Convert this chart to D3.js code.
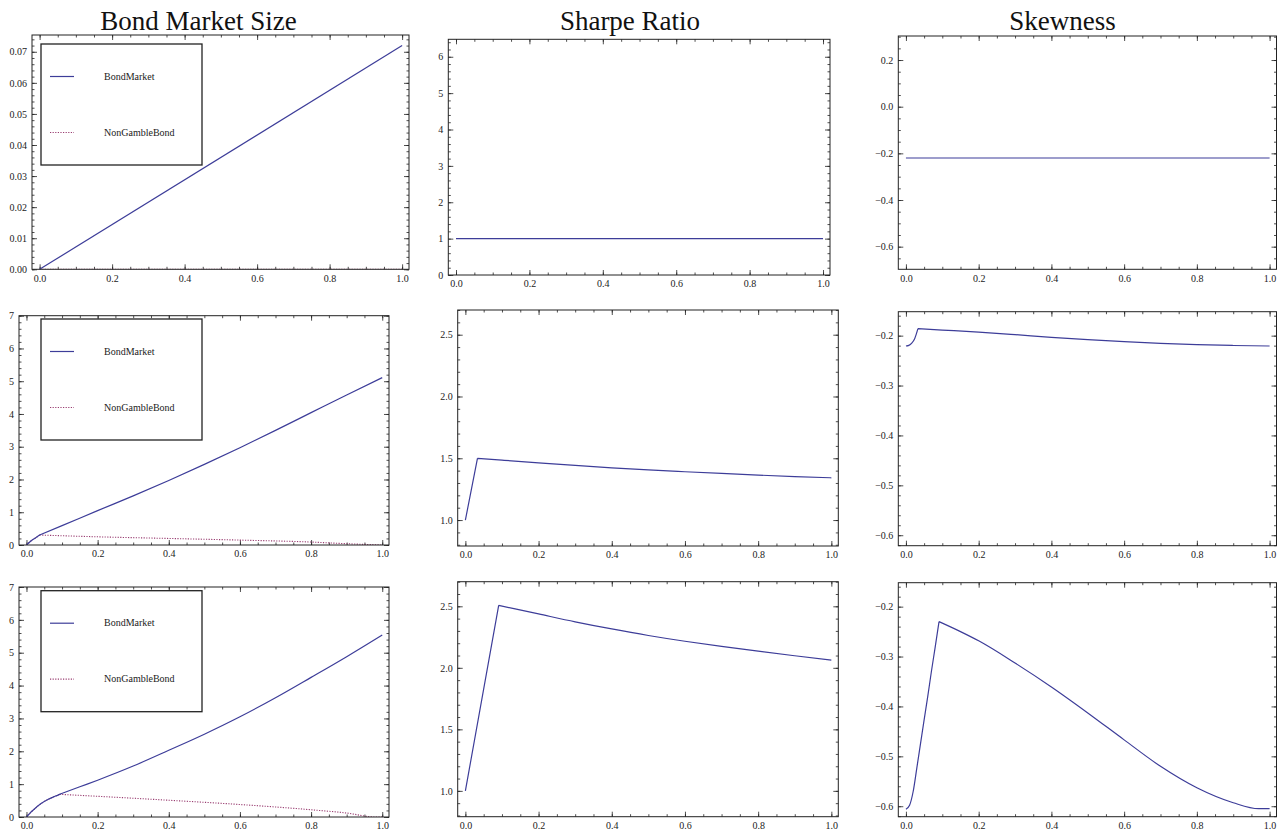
<!DOCTYPE html>
<html>
<head>
<meta charset="utf-8">
<script src="https://cdn.jsdelivr.net/npm/d3@7"></script>
<style>
  body { margin: 0; background: #fff; }
  svg { display: block; }
  text { font-family: "Liberation Serif", "DejaVu Serif", serif; }
</style>
</head>
<body>
<div id="chart"></div>
<script>
const width = 1278;
const height = 831;
const blue = '#3d3d99';
const red = '#993d71';
const ink = '#222';

const columnTitles = ['Bond Market Size', 'Sharpe Ratio', 'Skewness'];
const legendLabels = ['BondMarket', 'NonGambleBond'];

// row 1: no gambling bonds
const flatX = [0, 1];
const bondRow1 = [0, 0.072];
const nonGambleRow1 = [0, 0];
const sharpeRow1 = [1, 1];
const skewRow1 = [-0.22, -0.22];

// row 2
const bondRow2X = [0, 0.01, 0.02, 0.03, 0.037, 0.1, 0.2, 0.3, 0.4, 0.5, 0.6, 0.7, 0.8, 0.9, 1.0];
const bondRow2 = [0, 0.1, 0.18, 0.25, 0.305, 0.59, 1.05, 1.5, 1.97, 2.46, 2.97, 3.5, 4.04, 4.58, 5.11];
const nonGambleRow2X = [0, 0.01, 0.02, 0.03, 0.037, 0.2, 0.4, 0.6, 0.8, 0.9, 1.0];
const nonGambleRow2 = [0, 0.1, 0.18, 0.25, 0.305, 0.25, 0.2, 0.15, 0.09, 0.04, 0.0];
const sharpeRow2X = [0, 0.033, 0.1, 0.2, 0.3, 0.4, 0.5, 0.6, 0.7, 0.8, 0.9, 1.0];
const sharpeRow2 = [1.0, 1.5, 1.485, 1.463, 1.442, 1.423, 1.406, 1.391, 1.377, 1.364, 1.352, 1.342];
const skewRow2X = [0, 0.008, 0.016, 0.024, 0.033, 0.1, 0.2, 0.3, 0.4, 0.5, 0.6, 0.7, 0.8, 0.9, 1.0];
const skewRow2 = [-0.2207, -0.2195, -0.215, -0.206, -0.186, -0.1888, -0.193, -0.198, -0.2033, -0.208, -0.212, -0.2155, -0.218, -0.2197, -0.2207];

// row 3
const bondRow3X = [0, 0.01, 0.02, 0.04, 0.06, 0.08, 0.093, 0.15, 0.2, 0.3, 0.4, 0.5, 0.6, 0.7, 0.8, 0.9, 1.0];
const bondRow3 = [0, 0.12, 0.22, 0.4, 0.53, 0.63, 0.69, 0.92, 1.12, 1.55, 2.03, 2.52, 3.05, 3.63, 4.25, 4.88, 5.54];
const nonGambleRow3X = [0, 0.01, 0.02, 0.04, 0.06, 0.08, 0.093, 0.2, 0.4, 0.6, 0.8, 0.9, 0.98, 1.0];
const nonGambleRow3 = [0, 0.12, 0.22, 0.4, 0.53, 0.63, 0.69, 0.63, 0.51, 0.38, 0.22, 0.12, 0.0, 0.0];
const sharpeRow3X = [0, 0.091, 0.2, 0.3, 0.4, 0.5, 0.6, 0.7, 0.8, 0.9, 1.0];
const sharpeRow3 = [1.0, 2.508, 2.438, 2.374, 2.316, 2.263, 2.216, 2.174, 2.135, 2.098, 2.062];
const skewRow3X = [0, 0.01, 0.02, 0.03, 0.04, 0.05, 0.06, 0.07, 0.08, 0.091, 0.15, 0.2, 0.3, 0.4, 0.5, 0.6, 0.7, 0.8, 0.9, 0.97, 1.0];
const skewRow3 = [-0.606, -0.598, -0.57, -0.523, -0.475, -0.427, -0.38, -0.33, -0.283, -0.23, -0.25, -0.2685, -0.313, -0.361, -0.413, -0.467, -0.52, -0.563, -0.593, -0.605, -0.605];

// kink = index of the corner point where the curve is split into two smooth pieces
const bondSeries = (xs, ys, kink = 0) => ({ xs, ys, kink, color: blue, dash: null });
const nonGambleSeries = (xs, ys, kink = 0) => ({ xs, ys, kink, color: red, dash: '1.2,1.4' });

const panels = [
  { l: 32, t: 35, r: 409, b: 269.3, y: [0, 0.0754], step: 0.01, minor: 0.002, fmt: '.2f', legendTop: 44,
    series: [nonGambleSeries(flatX, nonGambleRow1), bondSeries(flatX, bondRow1)] },
  { l: 448.3, t: 39.3, r: 830, b: 275, y: [0, 6.48], step: 1, minor: 0.2, fmt: 'd',
    series: [bondSeries(flatX, sharpeRow1)] },
  { l: 898.3, t: 36, r: 1276.5, b: 269.3, y: [-0.697, 0.303], step: 0.2, minor: 0.05, fmt: '.1f',
    series: [bondSeries(flatX, skewRow1)] },
  { l: 19, t: 315.7, r: 389, b: 545, y: [0, 7], step: 1, minor: 0.2, fmt: 'd', legendTop: 319,
    series: [nonGambleSeries(nonGambleRow2X, nonGambleRow2, 4), bondSeries(bondRow2X, bondRow2, 4)] },
  { l: 457.7, t: 310, r: 838.3, b: 546, y: [0.79, 2.7], step: 0.5, minor: 0.1, fmt: '.1f',
    series: [bondSeries(sharpeRow2X, sharpeRow2, 1)] },
  { l: 898.3, t: 311.7, r: 1276.5, b: 545.7, y: [-0.621, -0.152], step: 0.1, minor: 0.02, fmt: '.1f',
    series: [bondSeries(skewRow2X, skewRow2, 4)] },
  { l: 19, t: 587, r: 389, b: 817, y: [0, 7], step: 1, minor: 0.2, fmt: 'd', legendTop: 590.7,
    series: [nonGambleSeries(nonGambleRow3X, nonGambleRow3, 6), bondSeries(bondRow3X, bondRow3, 6)] },
  { l: 457.7, t: 581.7, r: 838.3, b: 816.7, y: [0.79, 2.7], step: 0.5, minor: 0.1, fmt: '.1f',
    series: [bondSeries(sharpeRow3X, sharpeRow3, 1)] },
  { l: 898.3, t: 582.7, r: 1276.5, b: 816.7, y: [-0.621, -0.152], step: 0.1, minor: 0.02, fmt: '.1f',
    series: [bondSeries(skewRow3X, skewRow3, 9)] },
];

const titleX = [198.5, 630, 1062.5];
const xDomain = [-0.021, 1.019];

// tick values that fall inside [lo, hi] on a fixed step
const ticksBy = ([lo, hi], step) =>
  d3.range(Math.ceil(lo / step - 1e-9), Math.floor(hi / step + 1e-9) + 1).map(i => +(i * step).toFixed(6));

const svg = d3.select('#chart')
  .append('svg')
  .attr('width', width)
  .attr('height', height);

svg.selectAll('.title')
  .data(columnTitles)
  .enter()
  .append('text')
  .classed('title', true)
  .attr('x', (d, i) => titleX[i])
  .attr('y', 30)
  .attr('text-anchor', 'middle')
  .attr('font-size', 27)
  .attr('fill', '#111')
  .text(d => d);

const styleAxis = g => {
  g.select('.domain').remove();
  g.attr('font-family', null).attr('font-size', null);
  g.selectAll('line').attr('stroke', ink).attr('stroke-width', 0.8);
  g.selectAll('text').attr('font-size', 10).attr('fill', ink);
};

panels.forEach((p, idx) => {
  const w = p.r - p.l;
  const h = p.b - p.t;
  const g = svg.append('g').attr('transform', `translate(${p.l}, ${p.t})`);

  const xScale = d3.scaleLinear().domain(xDomain).range([0, w]);
  const yScale = d3.scaleLinear().domain(p.y).range([h, 0]);

  const xMajor = ticksBy([0, 1], 0.2);
  const xMinor = ticksBy([0, 1], 0.05);
  const yMajor = ticksBy(p.y, p.step);
  const yMinor = ticksBy(p.y, p.minor);
  const yFormat = d3.format(p.fmt);

  // minor ticks on all four sides
  g.append('g').attr('transform', `translate(0, ${h})`)
    .call(d3.axisBottom(xScale).tickValues(xMinor).tickSize(-2.5).tickFormat(''))
    .call(styleAxis);
  g.append('g')
    .call(d3.axisTop(xScale).tickValues(xMinor).tickSize(-2.5).tickFormat(''))
    .call(styleAxis);
  g.append('g')
    .call(d3.axisLeft(yScale).tickValues(yMinor).tickSize(-2.5).tickFormat(''))
    .call(styleAxis);
  g.append('g').attr('transform', `translate(${w}, 0)`)
    .call(d3.axisRight(yScale).tickValues(yMinor).tickSize(-2.5).tickFormat(''))
    .call(styleAxis);

  // major ticks, labelled on bottom and left
  g.append('g').attr('transform', `translate(0, ${h})`)
    .call(d3.axisBottom(xScale).tickValues(xMajor).tickSize(-5).tickPadding(5.3).tickFormat(d3.format('.1f')))
    .call(styleAxis);
  g.append('g')
    .call(d3.axisTop(xScale).tickValues(xMajor).tickSize(-5).tickFormat(''))
    .call(styleAxis);
  g.append('g')
    .call(d3.axisLeft(yScale).tickValues(yMajor).tickSize(-5).tickPadding(5).tickFormat(yFormat))
    .call(styleAxis);
  g.append('g').attr('transform', `translate(${w}, 0)`)
    .call(d3.axisRight(yScale).tickValues(yMajor).tickSize(-5).tickFormat(''))
    .call(styleAxis);

  const clipId = `clip${idx}`;
  g.append('clipPath').attr('id', clipId)
    .append('rect').attr('width', w).attr('height', h);

  const line = d3.line()
    .x(d => xScale(d[0]))
    .y(d => yScale(d[1]))
    .curve(d3.curveMonotoneX);

  const pathOf = s => {
    const pts = s.xs.map((x, i) => [x, s.ys[i]]);
    const pieces = s.kink > 0 ? [pts.slice(0, s.kink + 1), pts.slice(s.kink)] : [pts];
    return pieces.map(line).join('');
  };

  g.append('g').attr('clip-path', `url(#${clipId})`)
    .selectAll('path')
    .data(p.series)
    .enter()
    .append('path')
    .attr('d', pathOf)
    .attr('fill', 'none')
    .attr('stroke', s => s.color)
    .attr('stroke-width', s => s.dash ? 1.1 : 1.2)
    .attr('stroke-dasharray', s => s.dash);

  g.append('rect')
    .attr('width', w)
    .attr('height', h)
    .attr('fill', 'none')
    .attr('stroke', ink)
    .attr('stroke-width', 1);

  if (p.legendTop !== undefined) {
    const lg = svg.append('g').attr('transform', `translate(41, ${p.legendTop})`);
    lg.append('rect')
      .attr('width', 161)
      .attr('height', 121)
      .attr('fill', '#fff')
      .attr('stroke', ink)
      .attr('stroke-width', 1.3);
    const entries = [{ label: legendLabels[0], color: blue, dash: null, dy: 32.5 },
                     { label: legendLabels[1], color: red, dash: '1.2,1.4', dy: 88.5 }];
    entries.forEach(e => {
      lg.append('line')
        .attr('x1', 9).attr('x2', 33)
        .attr('y1', e.dy).attr('y2', e.dy)
        .attr('stroke', e.color)
        .attr('stroke-width', 1.2)
        .attr('stroke-dasharray', e.dash);
      lg.append('text')
        .attr('x', 63)
        .attr('y', e.dy)
        .attr('dy', '0.32em')
        .attr('font-size', 10)
        .attr('fill', ink)
        .text(e.label);
    });
  }
});
</script>
</body>
</html>
